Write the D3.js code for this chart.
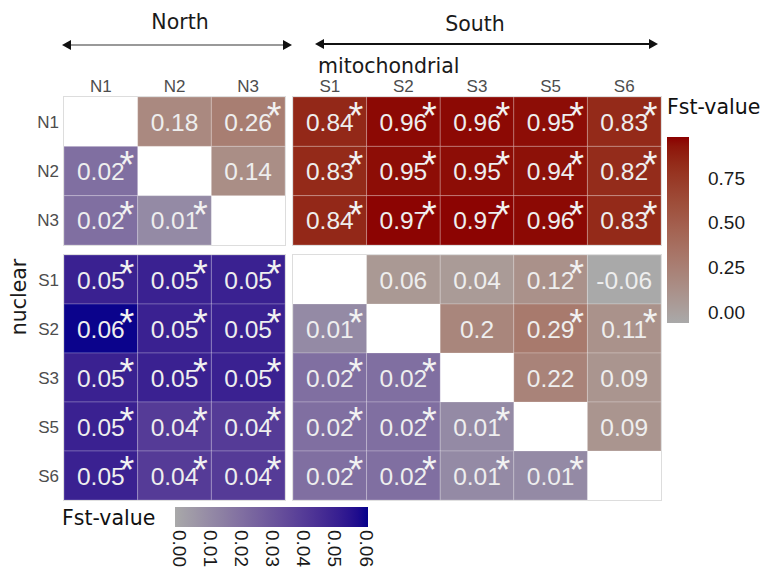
<!DOCTYPE html>
<html><head><meta charset="utf-8">
<script src="https://cdn.jsdelivr.net/npm/d3@7"></script>
<style>body{margin:0;background:#fff}</style>
</head><body>
<svg id="chart" width="762" height="569"></svg>
<script>
// ---------------- data ----------------
const northPops = ["N1", "N2", "N3"];
const southPops = ["S1", "S2", "S3", "S5", "S6"];
const populations = northPops.concat(southPops);

// mitochondrial Fst (upper triangle; row = population i, column = population j)
const mitoFst = [
  [null, 0.18, 0.26, 0.84, 0.96, 0.96, 0.95, 0.83],
  [null, null, 0.14, 0.83, 0.95, 0.95, 0.94, 0.82],
  [null, null, null, 0.84, 0.97, 0.97, 0.96, 0.83],
  [null, null, null, null, 0.06, 0.04, 0.12, -0.06],
  [null, null, null, null, null, 0.2, 0.29, 0.11],
  [null, null, null, null, null, null, 0.22, 0.09],
  [null, null, null, null, null, null, null, 0.09],
  [null, null, null, null, null, null, null, null]
];
const mitoSig = [
  [0, 0, 1, 1, 1, 1, 1, 1],
  [0, 0, 0, 1, 1, 1, 1, 1],
  [0, 0, 0, 1, 1, 1, 1, 1],
  [0, 0, 0, 0, 0, 0, 1, 0],
  [0, 0, 0, 0, 0, 0, 1, 1],
  [0, 0, 0, 0, 0, 0, 0, 0],
  [0, 0, 0, 0, 0, 0, 0, 0],
  [0, 0, 0, 0, 0, 0, 0, 0]
];
// nuclear Fst (lower triangle)
const nucFst = [
  [null, null, null, null, null, null, null, null],
  [0.02, null, null, null, null, null, null, null],
  [0.02, 0.01, null, null, null, null, null, null],
  [0.05, 0.05, 0.05, null, null, null, null, null],
  [0.06, 0.05, 0.05, 0.01, null, null, null, null],
  [0.05, 0.05, 0.05, 0.02, 0.02, null, null, null],
  [0.05, 0.04, 0.04, 0.02, 0.02, 0.01, null, null],
  [0.05, 0.04, 0.04, 0.02, 0.02, 0.01, 0.01, null]
];
const nucSig = [
  [0, 0, 0, 0, 0, 0, 0, 0],
  [1, 0, 0, 0, 0, 0, 0, 0],
  [1, 1, 0, 0, 0, 0, 0, 0],
  [1, 1, 1, 0, 0, 0, 0, 0],
  [1, 1, 1, 1, 0, 0, 0, 0],
  [1, 1, 1, 1, 1, 0, 0, 0],
  [1, 1, 1, 1, 1, 1, 0, 0],
  [1, 1, 1, 1, 1, 1, 1, 0]
];
const mitoDomain = [-0.06, 0.98];
const nucDomain = [-0.0013, 0.061];
const mitoTicks = [0, 0.25, 0.5, 0.75];
const nucTicks = [0, 0.01, 0.02, 0.03, 0.04, 0.05, 0.06];

// ---------------- scales ----------------
const svg = d3.select("#chart");
const xN = d3.scaleBand().domain(northPops).range([64, 285]);
const xS = d3.scaleBand().domain(southPops).range([293, 661]);
const yN = d3.scaleBand().domain(northPops).range([97, 245]);
const yS = d3.scaleBand().domain(southPops).range([255, 500]);
const xPos = p => northPops.includes(p) ? xN(p) : xS(p);
const yPos = p => northPops.includes(p) ? yN(p) : yS(p);
const bw = p => northPops.includes(p) ? xN.bandwidth() : xS.bandwidth();
const bh = p => northPops.includes(p) ? yN.bandwidth() : yS.bandwidth();

const mitoColor = d3.scaleLinear().domain(mitoDomain).range(["#a9a9a9", "#8b0000"]).interpolate(d3.interpolateLab);
const nucColor = d3.scaleLinear().domain(nucDomain).range(["#a9a9a9", "#00008b"]).interpolate(d3.interpolateLab);

// ---------------- tiles ----------------
const cells = [];
populations.forEach((r, i) => populations.forEach((c, j) => {
  let v = null, sig = 0, type = null;
  if (i < j) { v = mitoFst[i][j]; sig = mitoSig[i][j]; type = "m"; }
  else if (i > j) { v = nucFst[i][j]; sig = nucSig[i][j]; type = "n"; }
  cells.push({ r, c, v, sig, type });
}));

// block outlines
const blocks = [[xN, yN], [xS, yN], [xN, yS], [xS, yS]];
svg.append("g").selectAll("rect").data(blocks).join("rect")
  .attr("x", d => d[0].range()[0] - 0.5).attr("y", d => d[1].range()[0] - 0.5)
  .attr("width", d => d[0].range()[1] - d[0].range()[0] + 1)
  .attr("height", d => d[1].range()[1] - d[1].range()[0] + 1)
  .attr("fill", "#fff").attr("stroke", "#dddddd").attr("stroke-width", 1);

const valFont = "Liberation Sans, Arial, sans-serif";
const tiles = svg.append("g");
tiles.selectAll("rect").data(cells.filter(d => d.v !== null)).join("rect")
  .attr("x", d => xPos(d.c)).attr("y", d => yPos(d.r))
  .attr("width", d => bw(d.c)).attr("height", d => bh(d.r))
  .attr("fill", d => d.type === "m" ? mitoColor(d.v) : nucColor(d.v))
  .attr("stroke", "#ffffff").attr("stroke-opacity", 0.22).attr("stroke-width", 1);

tiles.selectAll("text.val").data(cells.filter(d => d.v !== null)).join("text")
  .attr("class", "val")
  .attr("x", d => xPos(d.c) + bw(d.c) / 2)
  .attr("y", d => yPos(d.r) + bh(d.r) / 2 + 9)
  .attr("text-anchor", "middle")
  .attr("font-family", valFont)
  .attr("font-size", 24.5).attr("fill", "#eeeeee")
  .text(d => String(d.v));

tiles.selectAll("text.sig").data(cells.filter(d => d.v !== null && d.sig)).join("text")
  .attr("class", "sig")
  .attr("x", d => xPos(d.c) + bw(d.c) / 2 + 26)
  .attr("y", d => yPos(d.r) + 32)
  .attr("text-anchor", "middle")
  .attr("font-family", valFont)
  .attr("font-size", 38).attr("fill", "#f2f2f2")
  .text("*");

// ---------------- axis labels ----------------
svg.append("g").selectAll("text").data(populations).join("text")
  .attr("x", d => xPos(d) + bw(d) / 2).attr("y", 92)
  .attr("text-anchor", "middle").attr("font-family", valFont)
  .attr("font-size", 17).attr("fill", "#4d4d4d").text(d => d);
svg.append("g").selectAll("text").data(populations).join("text")
  .attr("x", 59).attr("y", d => yPos(d) + bh(d) / 2 + 6)
  .attr("text-anchor", "end").attr("font-family", valFont)
  .attr("font-size", 17).attr("fill", "#4d4d4d").text(d => d);

const titleFont = "DejaVu Sans, Verdana, sans-serif";
const titleSize = 20.5;
svg.append("text").attr("x", 318).attr("y", 73).attr("font-family", titleFont)
  .attr("font-size", titleSize).attr("fill", "#1a1a1a").text("mitochondrial");
svg.append("text").attr("transform", "translate(26,297) rotate(-90)")
  .attr("text-anchor", "middle").attr("font-family", titleFont)
  .attr("font-size", titleSize).attr("fill", "#1a1a1a").text("nuclear");
svg.append("text").attr("x", 180).attr("y", 29).attr("text-anchor", "middle")
  .attr("font-family", titleFont).attr("font-size", titleSize).attr("fill", "#1a1a1a").text("North");
svg.append("text").attr("x", 475).attr("y", 31).attr("text-anchor", "middle")
  .attr("font-family", titleFont).attr("font-size", titleSize).attr("fill", "#1a1a1a").text("South");

// arrows
function arrow(x1, x2, y, color) {
  svg.append("line").attr("x1", x1 + 4).attr("x2", x2 - 4).attr("y1", y).attr("y2", y)
    .attr("stroke", color).attr("stroke-width", 2);
  svg.append("path").attr("d", `M${x1},${y} l9,-5 l0,10 z`).attr("fill", "#111");
  svg.append("path").attr("d", `M${x2},${y} l-9,-5 l0,10 z`).attr("fill", "#111");
}
arrow(62, 292, 45, "#999999");
arrow(315, 658, 44, "#111111");

// ---------------- legends ----------------
const defs = svg.append("defs");
// mitochondrial legend (vertical)
const mLegY = d3.scaleLinear().domain([0, 0.75]).range([312, 178]);
const mBar = [137, 323];
const gM = defs.append("linearGradient").attr("id", "gradM")
  .attr("x1", 0).attr("y1", 1).attr("x2", 0).attr("y2", 0);
d3.range(0, 1.0001, 0.05).forEach(t => {
  const v = mLegY.invert(mBar[1] - t * (mBar[1] - mBar[0]));
  gM.append("stop").attr("offset", t).attr("stop-color", mitoColor(Math.max(mitoDomain[0], Math.min(mitoDomain[1], v))));
});
svg.append("rect").attr("x", 667).attr("y", mBar[0]).attr("width", 22)
  .attr("height", mBar[1] - mBar[0]).attr("fill", "url(#gradM)");
svg.append("text").attr("x", 667).attr("y", 114).attr("font-family", titleFont)
  .attr("font-size", titleSize).attr("fill", "#111").text("Fst-value");
const mAxis = svg.append("g").attr("transform", "translate(689,0)")
  .call(d3.axisRight(mLegY).tickValues(mitoTicks).tickFormat(d3.format(".2f")).tickSize(0).tickPadding(19));
mAxis.select(".domain").remove();
mAxis.selectAll("text").attr("font-family", valFont).attr("font-size", 19).attr("fill", "#1a1a1a");

// nuclear legend (horizontal)
const nLegX = d3.scaleLinear().domain([0, 0.06]).range([179, 366]);
const nBar = [175, 368];
const gN = defs.append("linearGradient").attr("id", "gradN")
  .attr("x1", 0).attr("y1", 0).attr("x2", 1).attr("y2", 0);
d3.range(0, 1.0001, 0.05).forEach(t => {
  const v = nLegX.invert(nBar[0] + t * (nBar[1] - nBar[0]));
  gN.append("stop").attr("offset", t).attr("stop-color", nucColor(v));
});
svg.append("rect").attr("x", nBar[0]).attr("y", 507).attr("width", nBar[1] - nBar[0])
  .attr("height", 20).attr("fill", "url(#gradN)");
svg.append("text").attr("x", 62).attr("y", 525).attr("font-family", titleFont)
  .attr("font-size", titleSize).attr("fill", "#111").text("Fst-value");
const nAxis = svg.append("g").attr("transform", "translate(0,527)")
  .call(d3.axisBottom(nLegX).tickValues(nucTicks).tickFormat(d3.format(".2f")).tickSize(0).tickPadding(0));
nAxis.select(".domain").remove();
nAxis.selectAll("text")
  .attr("font-family", valFont).attr("font-size", 19).attr("fill", "#1a1a1a")
  .attr("text-anchor", "start").attr("dy", null).attr("y", 0)
  .attr("transform", "translate(-7,3) rotate(90)");
</script>
</body></html>
